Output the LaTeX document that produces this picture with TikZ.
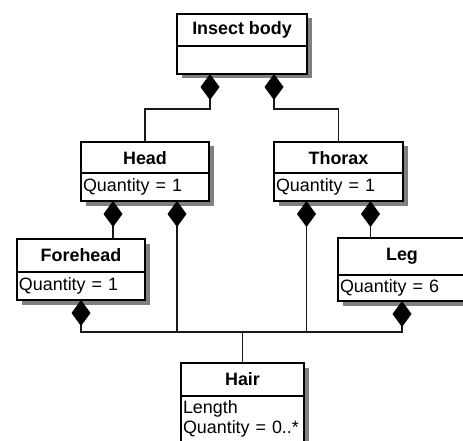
\documentclass[tikz,border=0pt]{standalone}
\usepackage{fontspec}
\setmainfont{Liberation Sans}
\usetikzlibrary{arrows.meta,shadows,calc}
\begin{document}
\begin{tikzpicture}[x=1pt,y=-1pt,
  umlbox/.style={draw=black, line width=1.8pt, fill=white, inner sep=2pt, outer sep=0pt,
    drop shadow={shadow xshift=4.5pt, shadow yshift=-4.5pt, fill=black!50, opacity=1}},
  ctitle/.style={umlbox, anchor=north west, font=\fontsize{17.9}{21}\selectfont\bfseries, minimum height=32pt, minimum width=128pt},
  cattr/.style={umlbox, anchor=north west, font=\fontsize{17.9}{19.5}\selectfont, align=left, text width=124pt, minimum height=28pt},
  comp/.style={draw=black!90, line width=1.1pt},
  dstart/.style={{Diamond[length=26pt,width=19pt,color=black]}-},
  dboth/.style={{Diamond[length=26pt,width=19pt,color=black]}-{Diamond[length=26pt,width=19pt,color=black]}}
]
\useasboundingbox (0,0) rectangle (463,441);
\fill[white] (0,0) rectangle (463,441);

% classes
\node[ctitle, minimum width=130pt] (ibT) at (177,14) {Insect body};
\node[cattr, text width=126pt] (ibA) at (177,46) {};

\node[ctitle] (hdT) at (81,142) {Head};
\node[cattr, minimum height=28pt] (hdA) at (81,173) {Quantity = 1};

\node[ctitle, minimum width=129pt] (thT) at (274,142) {Thorax};
\node[cattr, text width=125pt] (thA) at (274,173) {Quantity = 1};

\node[ctitle, minimum height=33pt] (fhT) at (17,239) {Forehead};
\node[cattr] (fhA) at (17,272) {Quantity = 1};

\node[ctitle, minimum height=37pt] (lgT) at (338,238) {Leg};
\node[cattr, minimum height=26pt] (lgA) at (338,275) {Quantity = 6};

\node[ctitle, minimum width=123pt, minimum height=33pt] (hrT) at (181,363) {Hair};
\node[cattr, text width=119pt, minimum height=56pt, inner ysep=5pt] (hrA) at (181,396) {Length\\Quantity = 0..*\\\mbox{}};

\coordinate (bus) at (242,332);

% connectors
\draw[comp, dstart] ([xshift=-32pt]ibA.south) -- ++(0,35) -| (hdT.north);
\draw[comp, dstart] ([xshift=32pt]ibA.south) -- ++(0,35) -| (thT.north);
\draw[comp, dstart] ([xshift=-32pt]hdA.south) -- ([xshift=-32pt]hdA.south |- fhT.north);
\draw[comp, dstart] ([xshift=32pt]hdA.south) -- ([xshift=32pt]hdA.south |- bus);
\draw[comp, dstart] ([xshift=-32pt]thA.south) -- ([xshift=-32pt]thA.south |- bus);
\draw[comp, dstart] ([xshift=32pt]thA.south) -- ([xshift=32pt]thA.south |- lgT.north);
\draw[comp, dboth] (fhA.south) -- (fhA.south |- bus) -- (lgA.south |- bus) -- (lgA.south);
\draw[comp] (hrT.north) -- (hrT.north |- bus);
\end{tikzpicture}
\end{document}
